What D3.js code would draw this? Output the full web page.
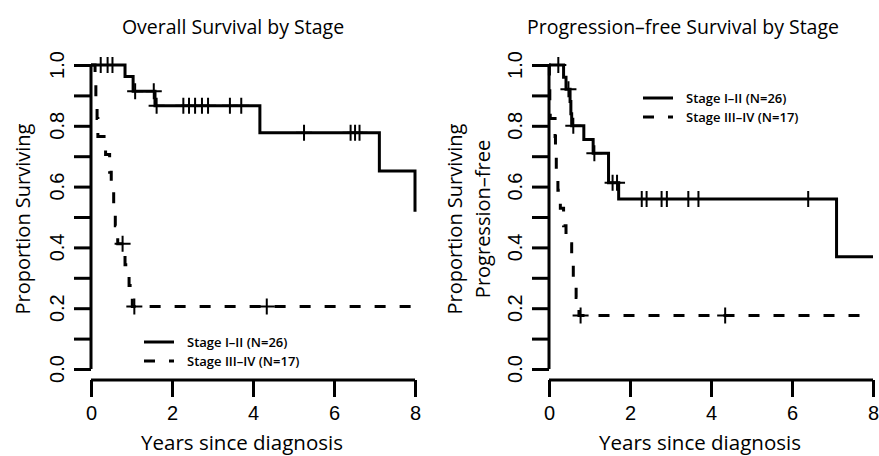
<!DOCTYPE html>
<html>
<head>
<meta charset="utf-8">
<script src="https://cdn.jsdelivr.net/npm/d3@7"></script>
<style>
body{margin:0;background:#fff;}
svg{display:block;font-family:"Open Sans",sans-serif;}
</style>
</head>
<body>
<div id="chart"></div>
<script>
// tick labels
var xTicks = [0, 2, 4, 6, 8];
var yTicks = [0, 0.1, 0.2, 0.3, 0.4, 0.5, 0.6, 0.7, 0.8, 0.9, 1.0];
var yLabels = [0, 0.2, 0.4, 0.6, 0.8, 1.0];
var seriesNames = ["Stage I\u2013II (N=26)", "Stage III\u2013IV (N=17)"];

// overall survival, stage I-II : event times / survival after event / censor times
var osEarlyT = [0.84, 1.04, 1.58, 4.17, 7.12, 8.00];
var osEarlyS = [0.962, 0.914, 0.866, 0.777, 0.651, 0.517];
var osEarlyCens = [0.24, 0.41, 0.53, 1.09, 1.55, 1.62, 2.28, 2.42, 2.57, 2.74, 2.89, 3.43, 3.71, 5.26, 6.41, 6.52, 6.63];
// overall survival, stage III-IV
var osLateT = [0.10, 0.12, 0.15, 0.17, 0.36, 0.46, 0.50, 0.56, 0.60, 0.66, 0.84, 0.94, 1.02];
var osLateS = [0.941, 0.882, 0.824, 0.765, 0.706, 0.647, 0.588, 0.529, 0.471, 0.412, 0.343, 0.275, 0.206];
var osLateCens = [0.78, 1.07, 4.34];

// progression-free survival, stage I-II
var pfsEarlyT = [0.36, 0.42, 0.52, 0.54, 0.56, 0.86, 1.09, 1.47, 1.72, 7.10];
var pfsEarlyS = [0.96, 0.92, 0.88, 0.84, 0.80, 0.755, 0.71, 0.613, 0.559, 0.369];
var pfsEarlyCens = [0.23, 0.48, 0.60, 1.12, 1.57, 1.68, 2.29, 2.41, 2.78, 2.91, 3.44, 3.69, 6.40];
// progression-free survival, stage III-IV
var pfsLateT = [0.01, 0.02, 0.03, 0.15, 0.16, 0.18, 0.22, 0.28, 0.36, 0.42, 0.56, 0.60, 0.67, 0.74];
var pfsLateS = [0.941, 0.882, 0.824, 0.765, 0.706, 0.647, 0.588, 0.529, 0.471, 0.412, 0.353, 0.294, 0.235, 0.176];
var pfsLateCens = [0.78, 4.35];

var tEnd = 8;
var width = 879, height = 456;

var svg = d3.select("#chart").append("svg")
    .attr("width", width)
    .attr("height", height);

function stepPoints(times, surv){
    var pts = [[0, 1]];
    times.forEach(function(t, i){ pts.push([t, surv[i]]); });
    if (times[times.length - 1] < tEnd) pts.push([tEnd, surv[surv.length - 1]]);
    return pts;
}
function survAt(times, surv, t){
    var i = d3.bisectRight(times, t);
    return i == 0 ? 1 : surv[i - 1];
}

function drawPanel(p){
    var g = svg.append("g");
    var x = d3.scaleLinear().domain([0, 8]).range([p.left, p.left + 324]);
    var y = d3.scaleLinear().domain([0, 1]).range([369, 65]);

    // y axis
    var yAxis = d3.axisLeft(y).tickValues(yTicks).tickSize(17).tickFormat("");
    var ya = g.append("g").attr("transform", "translate(" + p.left + ",0)").call(yAxis);
    ya.select(".domain").attr("d", "M0," + y(0) + "V" + y(1));
    ya.selectAll("path,line").attr("stroke", "#000").attr("stroke-width", 3);
    ya.selectAll(".ylab")
        .data(yLabels)
        .enter().append("text")
        .attr("class", "ylab")
        .attr("transform", function(d){ return "translate(" + (-34) + "," + y(d) + ") rotate(-90)"; })
        .attr("dy", "0.36em")
        .attr("text-anchor", "middle")
        .style("font-size", "20px")
        .attr("fill", "#000")
        .text(d3.format(".1f"));

    // x axis
    var xAxis = d3.axisBottom(x).tickValues(xTicks).tickSize(17).tickPadding(9);
    var xa = g.append("g").attr("transform", "translate(0,380)").call(xAxis);
    xa.select(".domain").attr("d", "M" + x(0) + ",0H" + x(8));
    xa.selectAll("path,line").attr("stroke", "#000").attr("stroke-width", 3);
    xa.selectAll("text").style("font-size", "20px").attr("fill", "#000");

    // titles
    g.append("text")
        .attr("x", p.titleX).attr("y", 34)
        .attr("text-anchor", "middle")
        .style("font-size", "19.5px")
        .text(p.title);
    g.append("text")
        .attr("x", p.left + 151).attr("y", 450)
        .attr("text-anchor", "middle")
        .style("font-size", "20.5px")
        .text("Years since diagnosis");
    p.ylab.forEach(function(t, i){
        g.append("text")
            .attr("transform", "translate(" + p.ylabX[i] + ",219) rotate(-90)")
            .attr("dy", "0.36em")
            .attr("text-anchor", "middle")
            .style("font-size", "20px")
            .text(t);
    });

    var line = d3.line()
        .x(function(d){ return x(d[0]); })
        .y(function(d){ return y(d[1]); })
        .curve(d3.curveStepAfter);

    p.series.forEach(function(s, k){
        g.append("path")
            .datum(stepPoints(s.t, s.s))
            .attr("d", line)
            .attr("fill", "none")
            .attr("stroke", "#000")
            .attr("stroke-width", 3)
            .attr("stroke-dasharray", k == 1 ? "11,14" : null);
        // censor marks
        g.selectAll(".cens" + k)
            .data(s.c)
            .enter().append("path")
            .attr("class", "cens" + k)
            .attr("d", function(d){
                var cx = x(d), cy = y(survAt(s.t, s.s, d));
                return "M" + (cx - 8) + "," + cy + "H" + (cx + 8) + "M" + cx + "," + (cy - 8) + "V" + (cy + 8);
            })
            .attr("stroke", "#000")
            .attr("stroke-width", 2)
            .attr("fill", "none");
    });

    // legend
    var lg = g.append("g").attr("transform", "translate(" + p.legX + "," + p.legY + ")");
    seriesNames.forEach(function(n, k){
        lg.append("line")
            .attr("x1", 0).attr("x2", 30)
            .attr("y1", k * 19).attr("y2", k * 19)
            .attr("stroke", "#000")
            .attr("stroke-width", 3)
            .attr("stroke-dasharray", k == 1 ? "11,14" : null);
        lg.append("text")
            .attr("x", 43).attr("y", k * 19)
            .attr("dy", "0.36em")
            .style("font-size", "13px")
            .style("font-weight", 600)
            .text(n);
    });
}

drawPanel({
    left: 91, titleX: 233,
    title: "Overall Survival by Stage",
    ylab: ["Proportion Surviving"], ylabX: [23],
    legX: 144, legY: 342,
    series: [
        {t: osEarlyT, s: osEarlyS, c: osEarlyCens},
        {t: osLateT, s: osLateS, c: osLateCens}
    ]
});
drawPanel({
    left: 549, titleX: 683,
    title: "Progression\u2013free Survival by Stage",
    ylab: ["Proportion Surviving", "Progression\u2013free"], ylabX: [455, 483],
    legX: 643, legY: 98,
    series: [
        {t: pfsEarlyT, s: pfsEarlyS, c: pfsEarlyCens},
        {t: pfsLateT, s: pfsLateS, c: pfsLateCens}
    ]
});
</script>
</body>
</html>
